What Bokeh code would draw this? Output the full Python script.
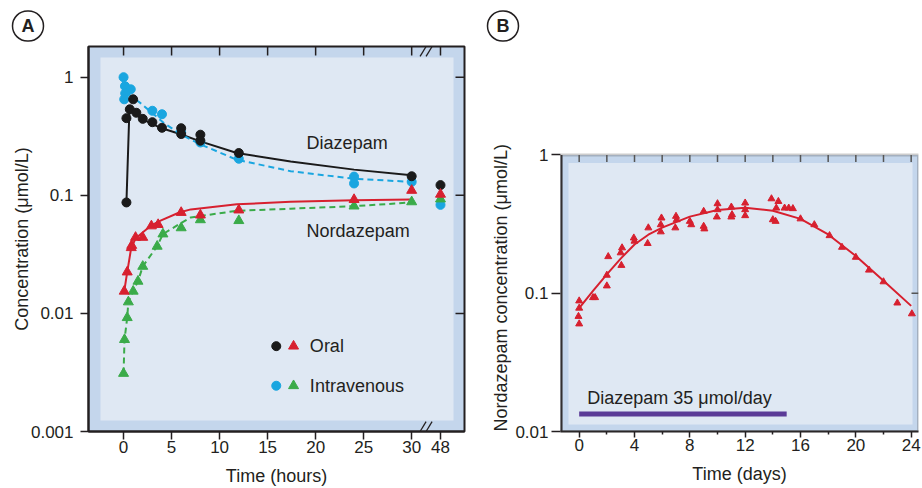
import math
from bokeh.plotting import figure
from bokeh.models import (Range1d, FixedTicker, BoxAnnotation, Label, Title, CustomJSTickFormatter)
from bokeh.layouts import row
from bokeh.embed import file_html
from bokeh.resources import INLINE

FONT = "Liberation Sans"
TXT = "#231f20"
OUTER = "#c4d6ec"
INNER = "#dfe8f3"
BLACK = "#1a1a1a"
BLUE = "#1aa6e0"
RED = "#d7202f"
GREEN = "#3aab49"
PURPLE = "#5b3b97"
GRAY = "#555555"

# ---------------- Panel A data (time in hours) ----------------
BREAK_POS = 33          # plotting position used for the 48 h point after the axis break
time_ticks_a = [0, 5, 10, 15, 20, 25, 30, 48]

diaz_oral_t = [0.3, 0.3, 0.65, 1, 1.33, 2, 3, 4, 6, 6, 8, 8, 12, 30, 48]
diaz_oral_v = [0.087, 0.45, 0.535, 0.65, 0.50, 0.444, 0.416, 0.373, 0.37, 0.33, 0.326, 0.29, 0.228, 0.145, 0.122]
diaz_oral_fit_t = [0.3, 0.6, 0.75, 1.2, 2.1, 3.9, 5.8, 8.0, 11.8, 17.4, 24, 30]
diaz_oral_fit_v = [0.087, 0.50, 0.53, 0.49, 0.435, 0.371, 0.332, 0.286, 0.228, 0.193, 0.165, 0.148]

diaz_iv_t = [0, 0.15, 0.75, 0.17, 0.07, 3, 4, 6, 8, 12, 24, 24, 30, 48]
diaz_iv_v = [1.0, 0.84, 0.79, 0.73, 0.65, 0.52, 0.486, 0.34, 0.28, 0.204, 0.144, 0.126, 0.13, 0.083]
diaz_iv_fit_t = [0.5, 1.8, 4.2, 5.9, 8, 11.8, 17.4, 24, 30]
diaz_iv_fit_v = [0.72, 0.60, 0.41, 0.33, 0.27, 0.20, 0.16, 0.138, 0.13]

nord_oral_t = [0.07, 0.38, 0.8, 0.85, 1.25, 2, 2.9, 3.6, 6, 8, 12, 24, 30, 48]
nord_oral_v = [0.0154, 0.0224, 0.036, 0.0376, 0.044, 0.044, 0.055, 0.0565, 0.0715, 0.068, 0.075, 0.092, 0.110, 0.102]
nord_oral_fit_t = [0.07, 0.38, 0.8, 1.25, 1.8, 2.8, 3.85, 5.8, 7, 11.8, 17.4, 24, 30]
nord_oral_fit_v = [0.0154, 0.0224, 0.036, 0.043, 0.047, 0.055, 0.061, 0.0715, 0.076, 0.084, 0.088, 0.091, 0.092]

nord_iv_t = [0, 0.1, 0.38, 0.5, 1, 1.5, 2, 3.5, 4.1, 6, 8, 12, 24, 30, 48]
nord_iv_v = [0.0031, 0.006, 0.0092, 0.0125, 0.0154, 0.0187, 0.025, 0.037, 0.047, 0.053, 0.062, 0.061, 0.081, 0.088, 0.093]
nord_iv_fit_t = [0, 0.1, 0.38, 0.5, 1, 1.5, 2, 3.5, 4.1, 5.8, 7.0, 11.8, 17.4, 24, 30]
nord_iv_fit_v = [0.0031, 0.006, 0.0092, 0.0125, 0.0154, 0.0187, 0.025, 0.037, 0.047, 0.057, 0.065, 0.074, 0.077, 0.081, 0.087]

conc_ticks_a = [0.001, 0.01, 0.1, 1]

# ---------------- Panel B data (time in days) ----------------
nord_days = [0.0, 0.0, -0.05, 0.0, 1.0, 1.15, 2.0, 2.1, 2.0, 3.0, 3.1, 3.05, 3.95, 4.0,
             4.95, 5.0, 5.9, 5.95, 5.9, 7.0, 7.05, 6.95, 8.0, 8.1, 9.0, 9.0, 9.05,
             10.0, 10.0, 9.95, 11.0, 11.0, 11.05, 12.0, 12.0, 12.0, 13.9, 14.0, 14.2,
             14.25, 14.4, 14.85, 15.15, 15.45, 16.0, 17.0, 18.1, 19.0, 20.0, 20.95,
             22.0, 23.0, 24.05]
nord_conc = [0.088, 0.078, 0.068, 0.060, 0.093, 0.093, 0.135, 0.184, 0.113, 0.196, 0.213, 0.159, 0.251, 0.238,
             0.229, 0.297, 0.313, 0.35, 0.278, 0.36, 0.34, 0.297, 0.331, 0.313, 0.391, 0.305, 0.292,
             0.444, 0.402, 0.356, 0.42, 0.356, 0.37, 0.449, 0.402, 0.364, 0.482, 0.34, 0.331,
             0.413, 0.461, 0.413, 0.413, 0.409, 0.345, 0.313, 0.261, 0.215, 0.182, 0.147,
             0.121, 0.085, 0.071]
nord_fit_days = [0, 1, 2, 3, 4, 5, 6, 8, 10, 12, 14, 16, 18, 20, 22, 24]
nord_fit_conc = [0.078, 0.104, 0.137, 0.178, 0.225, 0.265, 0.298, 0.358, 0.40, 0.415, 0.395, 0.345, 0.266, 0.186, 0.123, 0.081]
dose_days = [0, 15]
dose_label = "Diazepam 35 \u03bcmol/day"
day_ticks_major = [0, 4, 8, 12, 16, 20, 24]
day_ticks_minor = [2, 6, 10, 14, 18, 22]
conc_ticks_b = [0.01, 0.1, 1]


def xpos(ts):
    return [BREAK_POS if t == 48 else t for t in ts]


def style_axis(ax, tick_out):
    ax.major_tick_out = tick_out
    ax.major_tick_in = 0
    ax.minor_tick_out = 0
    ax.minor_tick_in = 0
    ax.major_tick_line_color = TXT
    ax.major_tick_line_width = 1.5
    ax.axis_line_color = TXT
    ax.axis_line_width = 2
    ax.major_label_text_font = FONT
    ax.major_label_text_font_size = "17px"
    ax.major_label_text_color = TXT
    ax.axis_label_text_font = FONT
    ax.axis_label_text_font_size = "18px"
    ax.axis_label_text_font_style = "normal"
    ax.axis_label_text_color = TXT


class Frame:
    """pixel <-> data helper for a log-y panel box"""
    def __init__(self, xr, yr, fw, fh):
        self.xr, self.yr, self.fw, self.fh = xr, yr, fw, fh
        self.dx = (xr[1] - xr[0]) / fw
        self.ly0, self.ly1 = math.log10(yr[0]), math.log10(yr[1])
        self.dy = (self.ly1 - self.ly0) / fh

    def y_down_from_top(self, px):
        return 10 ** (self.ly1 - px * self.dy)

    def y_up_from_bottom(self, px):
        return 10 ** (self.ly0 + px * self.dy)


def inner_box(p, fr, insets):
    l, r, t, b = insets
    p.add_layout(BoxAnnotation(left=fr.xr[0] + l * fr.dx, right=fr.xr[1] - r * fr.dx,
                               bottom=fr.y_up_from_bottom(b), top=fr.y_down_from_top(t),
                               fill_color=INNER, fill_alpha=1, line_color=None, level="underlay"))


def inside_ticks(p, fr, top_ticks, right_ticks, length, color):
    y_top = fr.yr[1]
    y_end = fr.y_down_from_top(length)
    p.segment(x0=top_ticks, y0=[y_top] * len(top_ticks), x1=top_ticks, y1=[y_end] * len(top_ticks),
              line_color=color, line_width=1.5)
    x_r = fr.xr[1]
    x_end = x_r - length * fr.dx
    p.segment(x0=[x_r] * len(right_ticks), y0=right_ticks, x1=[x_end] * len(right_ticks), y1=right_ticks,
              line_color=color, line_width=1.5)


def panel_letter(p, letter, offset):
    p.add_layout(Title(text=letter, align="left", offset=offset, standoff=11,
                       text_font=FONT, text_font_size="18px", text_font_style="bold",
                       text_color=TXT, border_line_color=TXT, border_line_width=1.5,
                       padding=(9, 5), border_radius=16), "above")


# ================= Panel A =================
XA = (-3.65, 35.5)
YA = (0.001, 1.82)
FA = Frame(XA, YA, 376, 387)
pa = figure(width=478, height=488, x_range=Range1d(*XA), y_range=Range1d(*YA),
            y_axis_type="log", output_backend="svg", toolbar_location=None,
            min_border_left=88, min_border_right=14, min_border_top=46, min_border_bottom=55)
pa.background_fill_color = OUTER
pa.border_fill_color = "white"
pa.outline_line_color = TXT
pa.outline_line_width = 2
pa.grid.visible = False
inner_box(pa, FA, (12, 11, 11, 11))

style_axis(pa.xaxis[0], 8)
pa.xaxis[0].ticker = FixedTicker(ticks=xpos(time_ticks_a), minor_ticks=[])
pa.xaxis[0].major_label_overrides = {BREAK_POS: "48"}
pa.xaxis[0].major_label_standoff = 1
pa.xaxis[0].axis_label = "Time (hours)"
pa.xaxis[0].axis_label_standoff = 10

style_axis(pa.yaxis[0], 8)
pa.yaxis[0].ticker = FixedTicker(ticks=conc_ticks_a, minor_ticks=[])
pa.yaxis[0].formatter = CustomJSTickFormatter(code="return tick.toString()")
pa.yaxis[0].major_label_standoff = 7
pa.yaxis[0].axis_label = "Concentration (\u03bcmol/L)"
pa.yaxis[0].axis_label_standoff = -4

inside_ticks(pa, FA, xpos(time_ticks_a), conc_ticks_a[1:], 9, TXT)

pa.line(xpos(diaz_oral_fit_t), diaz_oral_fit_v, color=BLACK, line_width=2)
pa.line(xpos(diaz_iv_fit_t), diaz_iv_fit_v, color=BLUE, line_width=2, line_dash="6 4")
pa.line(xpos(nord_oral_fit_t), nord_oral_fit_v, color=RED, line_width=2)
pa.line(xpos(nord_iv_fit_t), nord_iv_fit_v, color=GREEN, line_width=2, line_dash="6 4")
pa.scatter(xpos(diaz_iv_t), diaz_iv_v, marker="circle", size=9, color=BLUE)
pa.scatter(xpos(diaz_oral_t), diaz_oral_v, marker="circle", size=9, color=BLACK)
pa.scatter(xpos(nord_iv_t), nord_iv_v, marker="triangle", size=10, color=GREEN)
pa.scatter(xpos(nord_oral_t), nord_oral_v, marker="triangle", size=10, color=RED)

for txt, yv in (("Diazepam", 0.279), ("Nordazepam", 0.0498)):
    pa.add_layout(Label(x=19.06, y=yv, text=txt, text_font=FONT, text_font_size="18px",
                        text_color=TXT, text_baseline="middle"))

# legend
LEG_X = (15.9, 17.7, 19.4)
LEG_Y = (0.00528, 0.00244)
pa.scatter([LEG_X[0]], [LEG_Y[0]], marker="circle", size=9, color=BLACK)
pa.scatter([LEG_X[1]], [LEG_Y[0]], marker="triangle", size=10, color=RED)
pa.scatter([LEG_X[0]], [LEG_Y[1]], marker="circle", size=9, color=BLUE)
pa.scatter([LEG_X[1]], [LEG_Y[1]], marker="triangle", size=10, color=GREEN)
for txt, yv in (("Oral", LEG_Y[0]), ("Intravenous", LEG_Y[1])):
    pa.add_layout(Label(x=LEG_X[2], y=yv, text=txt, text_font=FONT, text_font_size="18px",
                        text_color=TXT, text_baseline="middle"))

# axis break marks "//" at top and bottom edges (x = 31.5 h position)
BRK_X = 31.5
for dxp in (-3, 3):
    x0 = BRK_X + (dxp - 3) * FA.dx
    x1 = BRK_X + (dxp + 3) * FA.dx
    pa.segment(x0=[x0, x0], y0=[FA.y_down_from_top(10), FA.y_up_from_bottom(0)],
               x1=[x1, x1], y1=[FA.y_down_from_top(0), FA.y_up_from_bottom(10)],
               line_color=TXT, line_width=1.3)

panel_letter(pa, "A", -76)

# ================= Panel B =================
# the visible panel box spans 0.01..1; the plotting frame extends higher so that
# both panels share the same frame top in the row layout.
XB = (-1.35, 24.53)
YB = (0.01, 1)
FB = Frame(XB, YB, 358, 278)
YB_REAL_TOP = 10 ** (FB.ly0 + 387 * FB.dy)
pb = figure(width=444, height=488, x_range=Range1d(*XB), y_range=Range1d(YB[0], YB_REAL_TOP),
            y_axis_type="log", output_backend="svg", toolbar_location=None,
            min_border_left=82, min_border_right=4, min_border_top=46, min_border_bottom=55)
pb.background_fill_color = "white"
pb.border_fill_color = "white"
pb.outline_line_color = None
pb.grid.visible = False
pb.add_layout(BoxAnnotation(left=XB[0], right=XB[1], bottom=YB[0], top=YB[1],
                            fill_color=OUTER, fill_alpha=1, line_color=None, level="underlay"))
inner_box(pb, FB, (8, 6, 8, 7))
pb.add_layout(BoxAnnotation(left=XB[0], right=XB[1], bottom=YB[0], top=YB[1],
                            fill_alpha=0, line_color=GRAY, line_width=3))
pb.segment(x0=[XB[0]], y0=[YB[0]], x1=[XB[0]], y1=[YB[1]], line_color=TXT, line_width=4)

style_axis(pb.xaxis[0], 6)
pb.xaxis[0].ticker = FixedTicker(ticks=day_ticks_major, minor_ticks=day_ticks_minor)
pb.xaxis[0].minor_tick_out = 3
pb.xaxis[0].minor_tick_line_color = TXT
pb.xaxis[0].minor_tick_line_width = 1.5
pb.xaxis[0].major_label_standoff = 1
pb.xaxis[0].axis_label = "Time (days)"
pb.xaxis[0].axis_label_standoff = 10

style_axis(pb.yaxis[0], 9)
pb.yaxis[0].axis_line_color = None
pb.yaxis[0].ticker = FixedTicker(ticks=conc_ticks_b, minor_ticks=[])
pb.yaxis[0].formatter = CustomJSTickFormatter(code="return tick.toString()")
pb.yaxis[0].major_label_standoff = 3
pb.add_layout(Title(text="Nordazepam concentration (\u03bcmol/L)", align="left", offset=0,
                    standoff=4, text_font=FONT, text_font_size="18px", text_font_style="normal",
                    text_color=TXT), "left")

inside_ticks(pb, FB, sorted(day_ticks_major + day_ticks_minor), [0.1], 7, GRAY)

pb.line(dose_days, [0.0134, 0.0134], color=PURPLE, line_width=5)
pb.add_layout(Label(x=0.58, y=0.0174, text=dose_label, text_font=FONT, text_font_size="18px",
                    text_color=TXT, text_baseline="middle"))
pb.line(nord_fit_days, nord_fit_conc, color=RED, line_width=2)
pb.scatter(nord_days, nord_conc, marker="triangle", size=7, color=RED)

panel_letter(pb, "B", -73)

layout = row(pa, pb)
open("out.html", "w").write(file_html(layout, INLINE))
